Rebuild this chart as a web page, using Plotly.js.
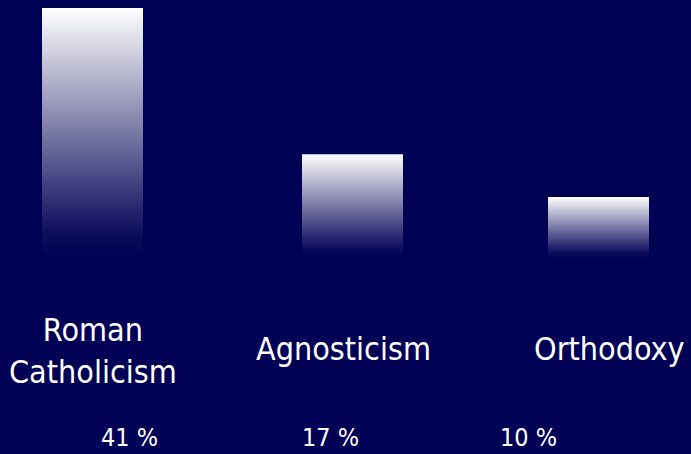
<!DOCTYPE html>
<html>
<head>
<meta charset="utf-8">
<script src="https://cdn.plot.ly/plotly-3.0.1.min.js"></script>
<style>
  html, body { margin: 0; padding: 0; background: #000055; }
  #chart { width: 691px; height: 454px; }
</style>
</head>
<body>
<div id="chart"></div>
<script>
// ---- data ----
var categories = ["Roman<br>Catholicism", "Agnosticism", "Orthodoxy"];
var values = [41, 17, 10];
var valueLabels = ["41 %", "17 %", "10 %"];

// ---- layout helpers (pixel-like x axis) ----
var BG = "#000055";
var barCenters = [92.5, 352.5, 598.5];
var barWidth = 101;
var labelX = [93, 343, 609];
var pctX = [129, 330, 528];
var FONT = "'Liberation Sans Narrow', 'DejaVu Sans Condensed', 'Roboto', sans-serif";

var traces = values.map(function (v, i) {
  var c = barCenters[i], h = barWidth / 2;
  return {
    type: "scatter",
    mode: "lines",
    x: [c - h, c + h, c + h, c - h, c - h],
    y: [0, 0, v, v, 0],
    fill: "toself",
    fillgradient: {
      type: "vertical",
      colorscale: [[0, BG], [0.1, "#0d0d5e"], [1, "#ffffff"]]
    },
    line: { width: 0, color: "rgba(0,0,0,0)" },
    hoverinfo: "skip",
    showlegend: false
  };
});

var annotations = [];
categories.forEach(function (c, i) {
  annotations.push({
    x: labelX[i], xref: "x",
    y: i === 0 ? 0.227 : 0.232, yref: "paper",
    text: c, showarrow: false,
    xanchor: "center", yanchor: "middle",
    font: { family: FONT, size: 32, color: "#ffffff" }
  });
  annotations.push({
    x: pctX[i], xref: "x",
    y: 0.037, yref: "paper",
    text: valueLabels[i], showarrow: false,
    xanchor: "center", yanchor: "middle",
    font: { family: FONT, size: 25, color: "#ffffff" }
  });
});

var layout = {
  width: 691, height: 454,
  margin: { l: 0, r: 0, t: 0, b: 0 },
  paper_bgcolor: BG,
  plot_bgcolor: BG,
  showlegend: false,
  xaxis: { range: [0, 691], visible: false, fixedrange: true },
  yaxis: { range: [-32.14, 42.31], visible: false, fixedrange: true },
  annotations: annotations
};

Plotly.newPlot("chart", traces, layout, { displayModeBar: false, staticPlot: true });
</script>
</body>
</html>
